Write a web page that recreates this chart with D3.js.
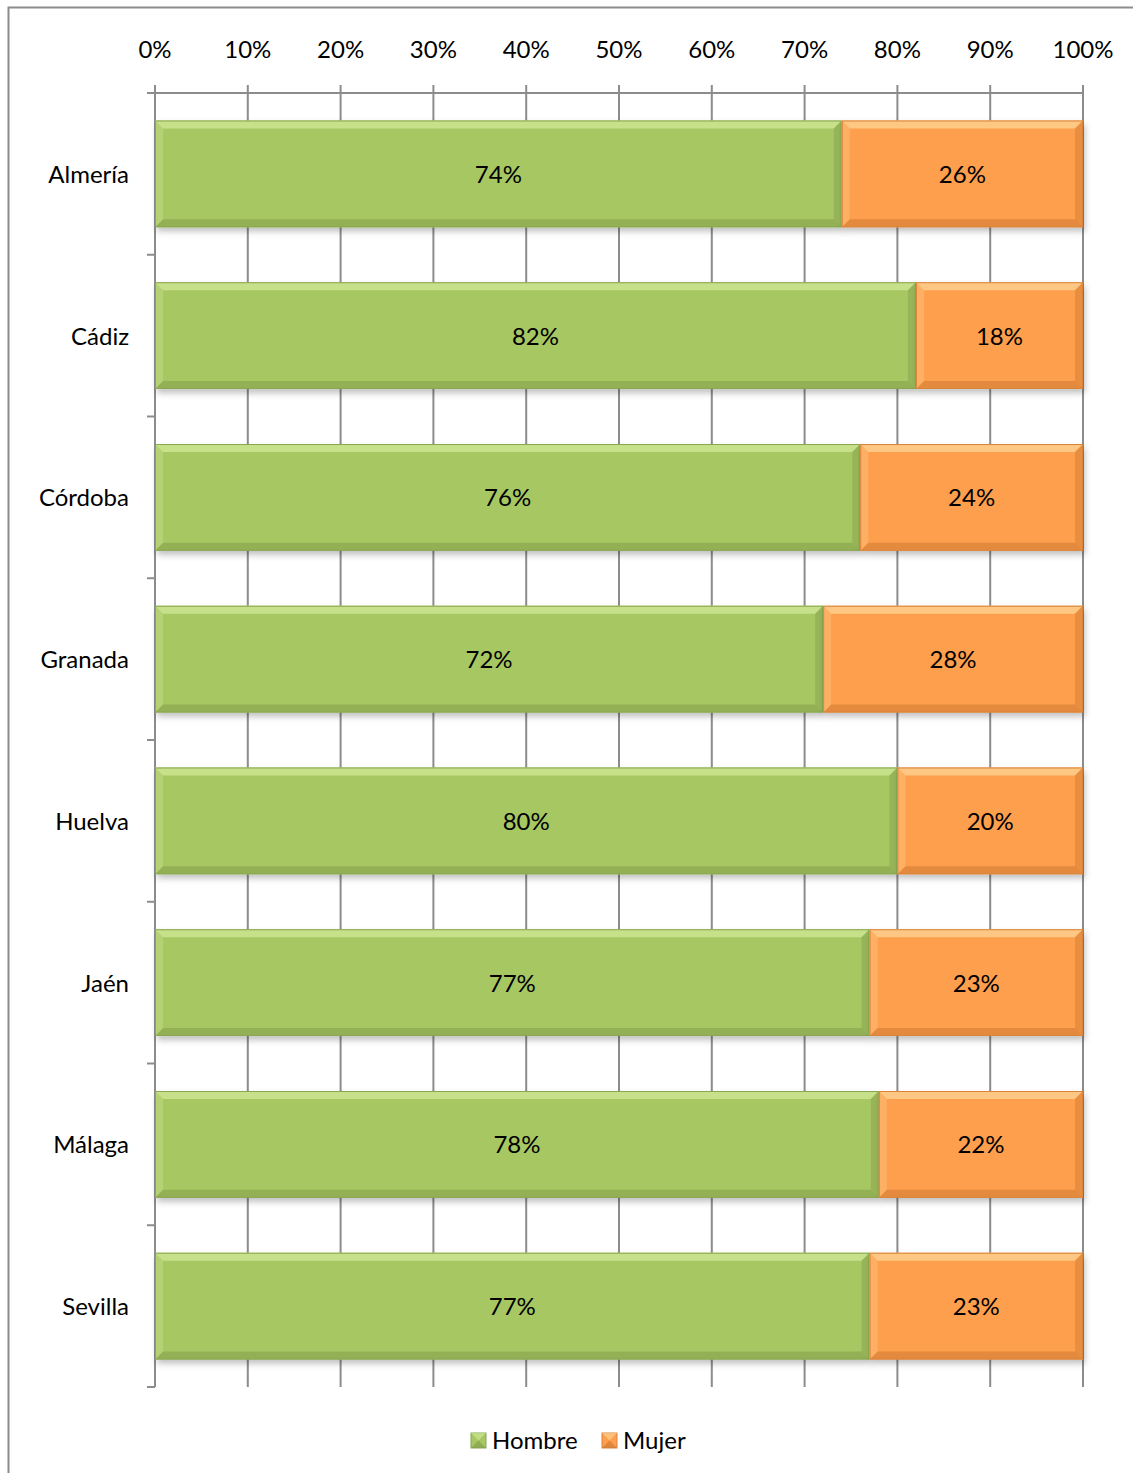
<!DOCTYPE html>
<html><head><meta charset="utf-8">
<script src="https://cdn.jsdelivr.net/npm/d3@7/dist/d3.min.js"></script>
<style>body{margin:0;background:#fff}svg{display:block}text{font-family:Lato,"Open Sans",sans-serif}</style>
</head><body>
<svg id="c" width="1133" height="1473"></svg>
<script>
const categories = ["Almería","Cádiz","Córdoba","Granada","Huelva","Jaén","Málaga","Sevilla"];
const hombre = [74,82,76,72,80,77,78,77];
const mujer = [26,18,24,28,20,23,22,23];
const seriesNames = ["Hombre","Mujer"];
const xTicks = [0,10,20,30,40,50,60,70,80,90,100];

const colors = {Hombre:{fill:"#a7c763",light:"#d4ec9c",dark:"#7f9a48",edge:"#8aa652"},
                Mujer:{fill:"#fd9f4e",light:"#fed89a",dark:"#c97630",edge:"#d9843a"}};
const FS = 24;

const svg = d3.select("#c");
const defs = svg.append("defs");
const f = defs.append("filter").attr("id","sh").attr("x","-5%").attr("y","-10%").attr("width","115%").attr("height","130%");
f.append("feDropShadow").attr("dx",2).attr("dy",4).attr("stdDeviation",3).attr("flood-color","#000").attr("flood-opacity",0.25);

// outer border
svg.append("path").attr("d","M8.5,1473 V7.5 H1133").attr("fill","none").attr("stroke","#8c8c8c").attr("stroke-width",2);

const x = d3.scaleLinear().domain([0,100]).range([155,1083]);
const y = d3.scaleBand().domain(categories).range([93,1387]).paddingInner(0.34).paddingOuter(0.17);
const yEdges = d3.range(categories.length+1).map(i=>93 + i*(1387-93)/categories.length);

// gridlines
svg.append("g").selectAll("line").data(xTicks).join("line")
  .attr("x1",d=>x(d)).attr("x2",d=>x(d)).attr("y1",85).attr("y2",1387)
  .attr("stroke","#8c8c8c").attr("stroke-width",2);
// top axis line
svg.append("line").attr("x1",147).attr("x2",1084).attr("y1",93).attr("y2",93).attr("stroke","#8c8c8c").attr("stroke-width",2);
// left axis ticks
svg.append("g").selectAll("line").data(yEdges).join("line")
  .attr("x1",147).attr("x2",155).attr("y1",d=>d).attr("y2",d=>d).attr("stroke","#8c8c8c").attr("stroke-width",2);
svg.append("line").attr("x1",155).attr("x2",155).attr("y1",93).attr("y2",1387).attr("stroke","#8c8c8c").attr("stroke-width",2);

// top tick labels
svg.append("g").selectAll("text").data(xTicks).join("text")
  .attr("x",d=>x(d)).attr("y",58).attr("text-anchor","middle").attr("font-size",FS).attr("fill","#000")
  .text(d=>d+"%");
// category labels
svg.append("g").selectAll("text").data(categories).join("text")
  .attr("x",129).attr("y",d=>y(d)+y.bandwidth()/2+9).attr("text-anchor","end").attr("font-size",FS).attr("fill","#000")
  .text(d=>d);

const data = categories.map((c,i)=>({cat:c, segs:[{s:"Hombre",x0:0,x1:hombre[i],v:hombre[i]},{s:"Mujer",x0:hombre[i],x1:hombre[i]+mujer[i],v:mujer[i]}]}));
const b = 8;
function bevel(g, x0, y0, w, h, c){
  g.append("rect").attr("x",x0).attr("y",y0).attr("width",w).attr("height",h).attr("fill",c.fill).attr("filter","url(#sh)");
  g.append("polygon").attr("points",`${x0},${y0} ${x0+w},${y0} ${x0+w-b},${y0+b} ${x0+b},${y0+b}`).attr("fill",c.light).attr("opacity",0.7);
  g.append("polygon").attr("points",`${x0},${y0+h} ${x0+w},${y0+h} ${x0+w-b},${y0+h-b} ${x0+b},${y0+h-b}`).attr("fill",c.dark).attr("opacity",0.5);
  g.append("polygon").attr("points",`${x0},${y0} ${x0+b},${y0+b} ${x0+b},${y0+h-b} ${x0},${y0+h}`).attr("fill",c.light).attr("opacity",0.3);
  g.append("polygon").attr("points",`${x0+w},${y0} ${x0+w-b},${y0+b} ${x0+w-b},${y0+h-b} ${x0+w},${y0+h}`).attr("fill",c.dark).attr("opacity",0.4);
  g.append("rect").attr("x",x0+0.5).attr("y",y0+0.5).attr("width",w-1).attr("height",h-1).attr("fill","none").attr("stroke",c.edge).attr("stroke-width",1);
}
const bars = svg.append("g");
data.forEach(d=>{
  d.segs.forEach(s=>{
    const g = bars.append("g");
    bevel(g, x(s.x0), y(d.cat), x(s.x1)-x(s.x0), y.bandwidth(), colors[s.s]);
  });
});
data.forEach(d=>{
  d.segs.forEach(s=>{
    bars.append("text").attr("x",(x(s.x0)+x(s.x1))/2).attr("y",y(d.cat)+y.bandwidth()/2+9)
      .attr("text-anchor","middle").attr("font-size",FS).attr("fill","#000").text(s.v+"%");
  });
});

// legend
const leg = [{s:"Hombre",x:471},{s:"Mujer",x:602}];
leg.forEach(l=>{
  const g = svg.append("g");
  const c = colors[l.s];
  const s=15, x0=l.x, y0=1433;
  g.append("rect").attr("x",x0).attr("y",y0).attr("width",s).attr("height",s).attr("fill",c.fill).attr("stroke",c.edge);
  g.append("polygon").attr("points",`${x0},${y0} ${x0+s},${y0} ${x0+s/2},${y0+s/2}`).attr("fill",c.light).attr("opacity",0.6);
  g.append("polygon").attr("points",`${x0},${y0+s} ${x0+s},${y0+s} ${x0+s/2},${y0+s/2}`).attr("fill",c.dark).attr("opacity",0.6);
  g.append("text").attr("x",x0+21).attr("y",y0+16).attr("font-size",FS).attr("fill","#000").text(l.s);
});
</script>
</body></html>
